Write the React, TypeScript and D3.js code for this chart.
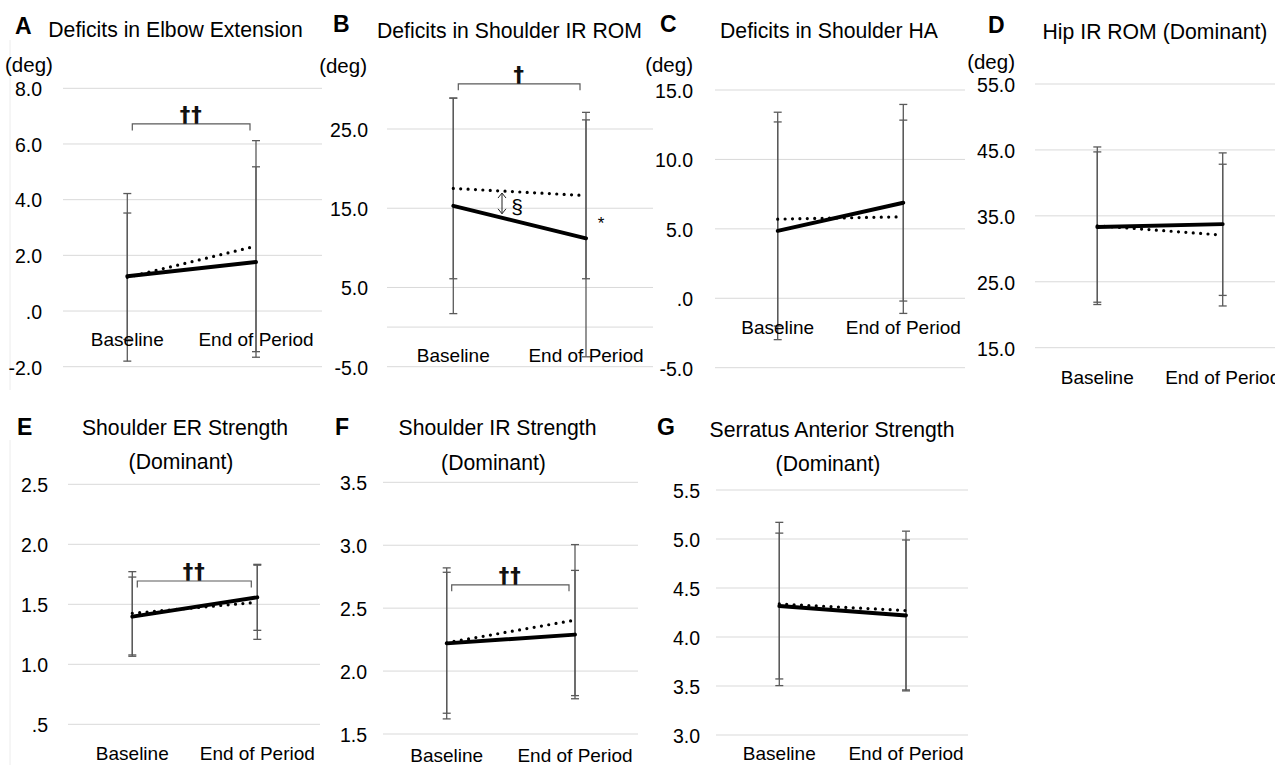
import * as d3 from "d3";

const categories = ["Baseline", "End of Period"];

// A  Deficits in Elbow Extension
const elbowSolidMean = [1.25, 1.76];
const elbowSolidSd = [2.27, 3.42];
const elbowDottedMean = [1.21, 2.33];
const elbowDottedSd = [3.01, 3.79];
const elbowTicks = [-2, 0, 2, 4, 6, 8];

// B  Deficits in Shoulder IR ROM
const shIrRomSolidMean = [15.3, 11.2];
const shIrRomSolidSd = [13.6, 14.95];
const shIrRomDottedMean = [17.5, 16.6];
const shIrRomDottedSd = [11.4, 10.5];
const shIrRomTicks = [-5, 5, 15, 25];

// C  Deficits in Shoulder HA
const shHaSolidMean = [4.86, 6.88];
const shHaSolidSd = [7.84, 7.08];
const shHaDottedMean = [5.7, 5.87];
const shHaDottedSd = [7.7, 6.96];
const shHaTicks = [-5, 0, 5, 10, 15];

// D  Hip IR ROM (Dominant)
const hipSolidMean = [33.3, 33.74];
const hipSolidSd = [11.4, 10.81];
const hipDottedMean = [33.5, 32.08];
const hipDottedSd = [11.95, 10.75];
const hipTicks = [15, 25, 35, 45, 55];

// E  Shoulder ER Strength (Dominant)
const erSolidMean = [1.397, 1.558];
const erSolidSd = [0.33, 0.275];
const erDottedMean = [1.425, 1.517];
const erDottedSd = [0.347, 0.309];
const erTicks = [0.5, 1.0, 1.5, 2.0, 2.5];

// F  Shoulder IR Strength (Dominant)
const irSolidMean = [2.22, 2.29];
const irSolidSd = [0.6, 0.51];
const irDottedMean = [2.225, 2.405];
const irDottedSd = [0.56, 0.6];
const irTicks = [1.5, 2.0, 2.5, 3.0, 3.5];

// G  Serratus Anterior Strength (Dominant)
const saSolidMean = [4.316, 4.22];
const saSolidSd = [0.744, 0.77];
const saDottedMean = [4.337, 4.27];
const saDottedSd = [0.833, 0.81];
const saTicks = [3.0, 3.5, 4.0, 4.5, 5.0, 5.5];

const FONT = "'Liberation Sans', Arial, Helvetica, sans-serif";
const GRID = "#d9d9d9";
const BAR = "#5a5a5a";

type Panel = {
  letter: string;
  title: string[];
  unit?: string;
  solid: number[];
  solidSd: number[];
  dotted: number[];
  dottedSd: number[];
  ticks: number[];
  cross: number;
  bracket?: number;
  bracketMark?: string;
  // layout (pixels)
  gx: [number, number];
  py: [number, number]; // pixel of min tick, pixel of max tick
  cx: [number, number];
  tickX: number;
  catY: number;
  letterPos: [number, number];
  titlePos: [number, number, number?];
  unitPos?: [number, number, string];
};

const panels: Panel[] = [
  {
    letter: "A", title: ["Deficits in Elbow Extension"], unit: "(deg)",
    solid: elbowSolidMean, solidSd: elbowSolidSd, dotted: elbowDottedMean, dottedSd: elbowDottedSd,
    ticks: elbowTicks, cross: 0, bracket: 6.72, bracketMark: "††",
    gx: [63, 322], py: [366.7, 88.3], cx: [127.3, 256], tickX: 42, catY: 339,
    letterPos: [15, 34], titlePos: [175.5, 36.5], unitPos: [5, 72, "start"],
  },
  {
    letter: "B", title: ["Deficits in Shoulder IR ROM"], unit: "(deg)",
    solid: shIrRomSolidMean, solidSd: shIrRomSolidSd, dotted: shIrRomDottedMean, dottedSd: shIrRomDottedSd,
    ticks: shIrRomTicks, cross: 0, bracket: 30.7, bracketMark: "†",
    gx: [387, 653], py: [366.7, 129], cx: [453.3, 586], tickX: 368, catY: 355,
    letterPos: [333, 32], titlePos: [509.5, 38], unitPos: [367, 73, "end"],
  },
  {
    letter: "C", title: ["Deficits in Shoulder HA"], unit: "(deg)",
    solid: shHaSolidMean, solidSd: shHaSolidSd, dotted: shHaDottedMean, dottedSd: shHaDottedSd,
    ticks: shHaTicks, cross: 0,
    gx: [715, 965], py: [367.7, 90], cx: [777.7, 903.3], tickX: 693, catY: 327,
    letterPos: [660, 32], titlePos: [829, 38], unitPos: [693, 72, "end"],
  },
  {
    letter: "D", title: ["Hip IR ROM (Dominant)"], unit: "(deg)",
    solid: hipSolidMean, solidSd: hipSolidSd, dotted: hipDottedMean, dottedSd: hipDottedSd,
    ticks: hipTicks, cross: 15,
    gx: [1035, 1275], py: [347.7, 84], cx: [1097.3, 1222.7], tickX: 1015, catY: 377,
    letterPos: [988, 33], titlePos: [1155, 39], unitPos: [1015, 69, "end"],
  },
  {
    letter: "E", title: ["Shoulder ER Strength", "(Dominant)"],
    solid: erSolidMean, solidSd: erSolidSd, dotted: erDottedMean, dottedSd: erDottedSd,
    ticks: erTicks, cross: 0.5, bracket: 1.694, bracketMark: "††",
    gx: [68, 320], py: [724.3, 484.3], cx: [132.3, 257.3], tickX: 48, catY: 753,
    letterPos: [17, 435], titlePos: [185, 434.5, 469],
  },
  {
    letter: "F", title: ["Shoulder IR Strength", "(Dominant)"],
    solid: irSolidMean, solidSd: irSolidSd, dotted: irDottedMean, dottedSd: irDottedSd,
    ticks: irTicks, cross: 1.5, bracket: 2.685, bracketMark: "††",
    gx: [383, 638], py: [734, 482.3], cx: [446.7, 575], tickX: 367, catY: 755,
    letterPos: [335, 435], titlePos: [497.5, 435, 470],
  },
  {
    letter: "G", title: ["Serratus Anterior Strength", "(Dominant)"],
    solid: saSolidMean, solidSd: saSolidSd, dotted: saDottedMean, dottedSd: saDottedSd,
    ticks: saTicks, cross: 3.0,
    gx: [716, 968], py: [735, 490], cx: [779.3, 906], tickX: 700, catY: 753,
    letterPos: [657, 435], titlePos: [832, 436.5, 471],
  },
];

// Excel-style labels: ".0", ".5", "-2.0" (plain hyphen)
const fmt = (v: number) => d3.format(".1f")(v).replace("−", "-").replace(/^0\./, ".");

function ChartPanel({ p }: { p: Panel }) {
  const y = d3
    .scaleLinear()
    .domain([d3.min(p.ticks)!, d3.max(p.ticks)!])
    .range(p.py);
  const x = d3.scalePoint<string>().domain(categories).range(p.cx);
  const line = d3
    .line<number>()
    .x((_, i) => x(categories[i])!)
    .y((d) => y(d));

  const errBars = (means: number[], sds: number[], key: string) =>
    means.map((m, i) => {
      const cxp = x(categories[i])!;
      const lo = y(m - sds[i]);
      const hi = y(m + sds[i]);
      return (
        <g key={key + i} stroke={BAR} strokeWidth={1.3}>
          <line x1={cxp} x2={cxp} y1={lo} y2={hi} />
          <line x1={cxp - 4} x2={cxp + 4} y1={lo} y2={lo} />
          <line x1={cxp - 4} x2={cxp + 4} y1={hi} y2={hi} />
        </g>
      );
    });

  const bx0 = p.cx[0] + 5;
  const bx1 = p.cx[1] - 6;

  return (
    <g>
      {p.ticks.map((t) => (
        <line key={"g" + t} x1={p.gx[0]} x2={p.gx[1]} y1={y(t)} y2={y(t)} stroke={GRID} strokeWidth={1} />
      ))}
      {!p.ticks.includes(p.cross) && (
        <line x1={p.gx[0]} x2={p.gx[1]} y1={y(p.cross)} y2={y(p.cross)} stroke={GRID} strokeWidth={1} />
      )}
      {p.ticks.map((t) => (
        <text key={"t" + t} x={p.tickX} y={y(t) + 1} dy="0.35em" textAnchor="end" fontSize={19.5}>
          {fmt(t)}
        </text>
      ))}

      {errBars(p.solid, p.solidSd, "s")}
      {errBars(p.dotted, p.dottedSd, "d")}

      <path d={line(p.solid)!} fill="none" stroke="#000" strokeWidth={3.9} strokeLinecap="round" />
      <path
        d={line(p.dotted)!}
        fill="none"
        stroke="#000"
        strokeWidth={3.2}
        strokeLinecap="round"
        strokeDasharray="0 7.4"
      />

      {categories.map((c) => (
        <text key={c} x={x(c)} y={p.catY} dy="0.35em" textAnchor="middle" fontSize={19}>
          {c}
        </text>
      ))}

      {p.bracket !== undefined && (
        <g>
          <path
            d={`M${bx0},${y(p.bracket) + 6.5}V${y(p.bracket)}H${bx1}V${y(p.bracket) + 6.5}`}
            fill="none"
            stroke={BAR}
            strokeWidth={1.2}
          />
          <text
            x={(bx0 + bx1) / 2}
            y={y(p.bracket) - 2}
            textAnchor="middle"
            fontSize={21}
            fontWeight="bold"
            fontFamily="'DejaVu Sans', sans-serif"
            letterSpacing={1}
            fill="#111"
          >
            {p.bracketMark}
          </text>
        </g>
      )}

      <text x={p.letterPos[0]} y={p.letterPos[1]} fontSize={23} fontWeight={900}>
        {p.letter}
      </text>
      <text x={p.titlePos[0]} y={p.titlePos[1]} textAnchor="middle" fontSize={21.2}>
        {p.title[0]}
      </text>
      {p.title[1] && p.titlePos[2] !== undefined && (
        <text x={p.titlePos[0] - 4} y={p.titlePos[2]} textAnchor="middle" fontSize={21.2}>
          {p.title[1]}
        </text>
      )}
      {p.unit && p.unitPos && (
        <text x={p.unitPos[0]} y={p.unitPos[1]} textAnchor={p.unitPos[2] as any} fontSize={20.5}>
          {p.unit}
        </text>
      )}
    </g>
  );
}

// Extra marks on panel B: § difference arrow and * next to End of Period
function PanelBNotes() {
  const p = panels[1];
  const y = d3.scaleLinear().domain([d3.min(p.ticks)!, d3.max(p.ticks)!]).range(p.py);
  const t = 0.367;
  const ax = p.cx[0] + (p.cx[1] - p.cx[0]) * t;
  const yd = y(p.dotted[0] + (p.dotted[1] - p.dotted[0]) * t) + 2;
  const ys = y(p.solid[0] + (p.solid[1] - p.solid[0]) * t) - 4;
  return (
    <g>
      <path
        d={`M${ax},${yd}V${ys}M${ax - 4},${yd + 5}L${ax},${yd}L${ax + 4},${yd + 5}M${ax - 4},${ys - 5}L${ax},${ys}L${ax + 4},${ys - 5}`}
        fill="none"
        stroke="#222"
        strokeWidth={1}
      />
      <text x={ax + 15} y={y(14.3)} textAnchor="middle" fontSize={21}>
        §
      </text>
      <text x={p.cx[1] + 15} y={y(12.4)} textAnchor="middle" fontSize={17}>
        *
      </text>
    </g>
  );
}

export default function App() {
  return (
    <svg
      width={1275}
      height={768}
      style={{ position: "absolute", left: 0, top: 0, background: "#fff" }}
      fontFamily={FONT}
      fill="#000"
    >
      <rect width={1275} height={768} fill="#fff" />
      <line x1={10} x2={10} y1={40} y2={390} stroke="#ececec" />
      <line x1={10} x2={10} y1={440} y2={765} stroke="#ececec" />
      {panels.map((p) => (
        <ChartPanel key={p.letter} p={p} />
      ))}
      <PanelBNotes />
    </svg>
  );
}
